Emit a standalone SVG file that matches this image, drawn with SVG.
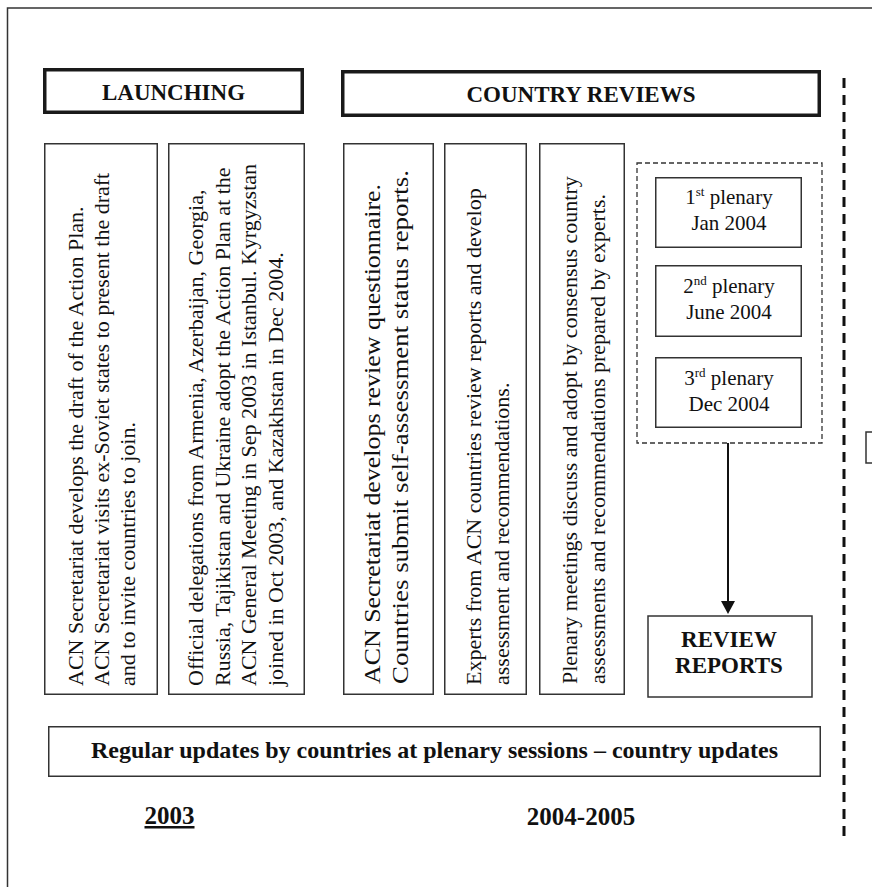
<svg xmlns="http://www.w3.org/2000/svg" width="872" height="887" viewBox="0 0 872 887">
<defs>
<style>
.t{font-family:"Liberation Serif","Times New Roman",serif;fill:#111}
.b{font-weight:bold}
.box{fill:#fff;stroke:#333;stroke-width:1.5}
.hdr{fill:#fff;stroke:#1a1a1a;stroke-width:3.5}
.v{font-size:22px}
.p{font-size:21px;text-anchor:middle}
.sup{font-size:13px}
.mid{text-anchor:middle}
</style>
</defs>
<rect x="0" y="0" width="872" height="887" fill="#fff"/>
<rect id="frame" x="7.5" y="8" width="900" height="900" fill="none" stroke="#333" stroke-width="1.5"/>
<line id="divider" x1="844" y1="78" x2="844" y2="836" stroke="#111" stroke-width="3" stroke-dasharray="10 7"/>
<rect id="edge-box" x="866" y="432" width="20" height="31" fill="#fff" stroke="#333" stroke-width="1.5"/>

<g id="launching">
<rect class="hdr" x="44.75" y="69.75" width="257.5" height="42.5"/>
<text class="t b mid" x="173.5" y="100" font-size="23">LAUNCHING</text>
</g>
<g id="country-reviews">
<rect class="hdr" x="342.75" y="71.75" width="476.5" height="43.5"/>
<text class="t b mid" x="581" y="102" font-size="23">COUNTRY REVIEWS</text>
</g>

<g id="step1">
<rect class="box" x="44.75" y="143.75" width="112.5" height="550.5"/>
<text class="t v" transform="translate(83,686) rotate(-90)">
<tspan x="0" y="0">ACN Secretariat develops the draft of the Action Plan.</tspan>
<tspan x="0" y="26">ACN Secretariat visits ex-Soviet states to present the draft</tspan>
<tspan x="0" y="52">and to invite countries to join.</tspan>
</text>
</g>
<g id="step2">
<rect class="box" x="168.75" y="143.75" width="135.5" height="550.5"/>
<text class="t v" transform="translate(203,686) rotate(-90)">
<tspan x="0" y="0">Official delegations from Armenia, Azerbaijan, Georgia,</tspan>
<tspan x="0" y="26.5">Russia, Tajikistan and Ukraine adopt the Action Plan at the</tspan>
<tspan x="0" y="53">ACN General Meeting in Sep 2003 in Istanbul. Kyrgyzstan</tspan>
<tspan x="0" y="79.5">joined in Oct 2003, and Kazakhstan in Dec 2004.</tspan>
</text>
</g>
<g id="step3">
<rect class="box" x="343.75" y="143.75" width="89.5" height="550.5"/>
<g transform="translate(380,684) rotate(-90)">
<text class="t" font-size="24" x="0" y="0" textLength="500" lengthAdjust="spacingAndGlyphs">ACN Secretariat develops review questionnaire.</text>
<text class="t" font-size="24" x="0" y="28" textLength="514" lengthAdjust="spacingAndGlyphs">Countries submit self-assessment status reports.</text>
</g>
</g>
<g id="step4">
<rect class="box" x="444.75" y="143.75" width="81.5" height="550.5"/>
<text class="t v" transform="translate(481,685) rotate(-90)">
<tspan x="0" y="0">Experts from ACN countries review reports and develop</tspan>
<tspan x="0" y="28">assessment and recommendations.</tspan>
</text>
</g>
<g id="step5">
<rect class="box" x="539.75" y="143.75" width="84.5" height="550.5"/>
<text class="t v" transform="translate(577,684) rotate(-90)">
<tspan x="0" y="0">Plenary meetings discuss and adopt by consensus country</tspan>
<tspan x="0" y="28">assessments and recommendations prepared by experts.</tspan>
</text>
</g>

<g id="plenaries">
<rect x="637" y="163" width="185" height="280" fill="none" stroke="#333" stroke-width="1.3" stroke-dasharray="5 3"/>
<g id="plenary1">
<rect class="box" x="655.75" y="177.75" width="145.5" height="69.5"/>
<text class="t p" x="729" y="204">1<tspan class="sup" dy="-8">st</tspan><tspan dy="8"> plenary</tspan></text>
<text class="t p" x="729" y="230">Jan 2004</text>
</g>
<g id="plenary2">
<rect class="box" x="655.75" y="265.75" width="145.5" height="70.5"/>
<text class="t p" x="729" y="293">2<tspan class="sup" dy="-8">nd</tspan><tspan dy="8"> plenary</tspan></text>
<text class="t p" x="729" y="319">June 2004</text>
</g>
<g id="plenary3">
<rect class="box" x="655.75" y="357.75" width="145.5" height="69.5"/>
<text class="t p" x="729" y="385">3<tspan class="sup" dy="-8">rd</tspan><tspan dy="8"> plenary</tspan></text>
<text class="t p" x="729" y="411">Dec 2004</text>
</g>
</g>

<g id="review-reports">
<rect class="box" x="648" y="616" width="164" height="81" stroke-width="2"/>
<text class="t b mid" x="729" y="647" font-size="23">REVIEW</text>
<text class="t b mid" x="729" y="673" font-size="23">REPORTS</text>
</g>

<g id="connectors">
<line x1="728" y1="443" x2="728" y2="602" stroke="#111" stroke-width="2"/>
<polygon points="721,601 735,601 728,614" fill="#111"/>
</g>

<g id="updates">
<rect class="box" x="48.75" y="726.75" width="771.5" height="49.5"/>
<text class="t b mid" x="434.5" y="758" font-size="24">Regular updates by countries at plenary sessions – country updates</text>
</g>
<text id="year2003" class="t b mid" x="169.5" y="824" font-size="25" text-decoration="underline">2003</text>
<text id="year2004" class="t b mid" x="581" y="825" font-size="25">2004-2005</text>
</svg>
